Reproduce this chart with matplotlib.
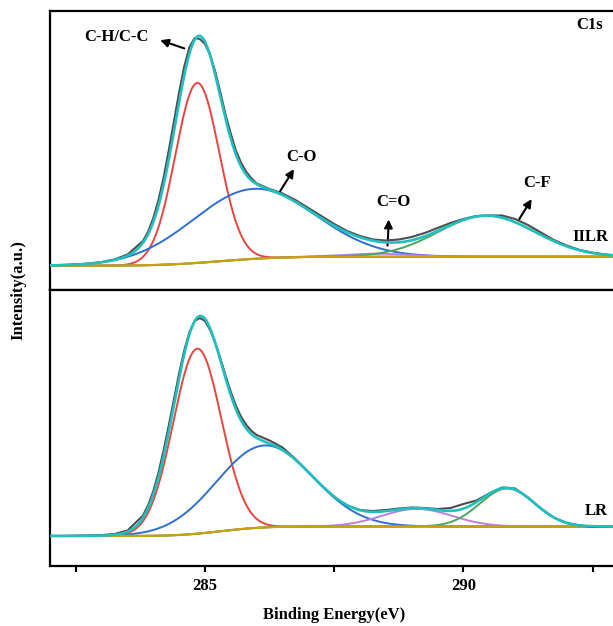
import math
import numpy as np
import matplotlib.pyplot as plt

plt.rcParams['font.family'] = ['Liberation Serif', 'DejaVu Serif']
plt.rcParams['font.weight'] = 'bold'

# measured spectra (a.u.); finer steps across the main peak
energy = [282.0, 282.25, 282.5, 282.75, 283.0, 283.25, 283.5,
          283.8, 283.9, 284.0, 284.1, 284.2, 284.3, 284.4, 284.5, 284.6, 284.7, 284.8,
          284.9, 285.0, 285.1, 285.2, 285.3, 285.4, 285.5, 285.6, 285.7, 285.8, 285.9, 286.0,
          286.25, 286.5, 286.75, 287.0, 287.25, 287.5, 287.75, 288.0, 288.25, 288.5, 288.75,
          289.0, 289.25, 289.5, 289.75, 290.0, 290.25, 290.5, 290.75, 291.0, 291.25, 291.5,
          291.75, 292.0, 292.25, 292.5, 292.75, 293.0]
raw_top = [24.8, 25.1, 25.6, 26.5, 28.0, 30.6, 35.5,
           49.0, 58.5, 72.0, 90.0, 113.0, 140.0, 169.0, 198.0, 224.0, 243.0, 252.0,
           251.0, 246.0, 235.0, 218.0, 197.0, 175.0, 156.0, 139.0, 127.0, 118.0, 111.5, 106.5,
           101.0, 96.5, 90.0, 82.0, 74.0, 66.0, 59.0, 54.0, 50.5, 49.5, 50.5,
           53.0, 57.0, 62.0, 67.0, 71.0, 74.0, 74.5, 74.5, 71.0, 65.0, 57.5,
           50.0, 44.5, 40.0, 37.3, 35.5, 34.5]
raw_bot = [30.2, 30.0, 30.3, 30.5, 30.9, 32.0, 35.5,
           50.5, 61.0, 75.0, 93.5, 116.0, 141.0, 167.0, 193.0, 216.0, 234.0, 245.0,
           248.0, 245.0, 236.0, 223.0, 207.0, 190.0, 174.0, 160.0, 149.0, 141.0, 135.0, 131.0,
           125.5, 118.5, 107.0, 94.0, 80.5, 69.0, 60.5, 56.0, 55.0, 56.0, 57.5,
           58.5, 58.0, 57.0, 58.0, 62.0, 65.5, 72.5, 78.5, 77.5, 68.5, 57.5,
           48.5, 43.0, 40.5, 39.0, 39.3, 39.5]

# fitted peaks: C-H/C-C, C-O, C=O, C-F
peak_colors = ['#e8453f', '#2d6fd2', '#b781e2', '#48a85c']
center_top = [284.85, 285.93, 288.3, 290.45]
fwhm_top = [1.0, 2.8, 1.5, 2.2]
height_top = [180, 70, 3, 41]
center_bot = [284.85, 286.15, 289.1, 290.85]
fwhm_bot = [1.1, 2.2, 1.6, 1.25]
height_bot = [185, 82, 17.6, 38]

# background: low-BE level, high-BE level, step centre, step width
bg_top = [24.3, 33.3, 285.3, 0.9]
bg_bot = [30.0, 39.5, 285.3, 0.65]

x = np.linspace(282, 293, 600)
erf = np.vectorize(math.erf)

def gauss(c, w, h):
    s = w / 2.3548
    return h * np.exp(-0.5 * ((x - c) / s) ** 2)

def background(p):
    lo, hi, c, s = p
    return lo + (hi - lo) * 0.5 * (1 + erf((x - c) / (s * np.sqrt(2))))

fig = plt.figure(figsize=(6.13, 6.26), dpi=100)
ax_top = fig.add_axes([50/613, 336/626, 568.4/613, 279/626])
ax_bot = fig.add_axes([50/613, 60/626, 568.4/613, 276/626])

for ax, raw, cen, fw, hh, bgp, ymax in [(ax_top, raw_top, center_top, fwhm_top, height_top, bg_top, 279),
                                        (ax_bot, raw_bot, center_bot, fwhm_bot, height_bot, bg_bot, 276)]:
    bg = background(bgp)
    env = bg.copy()
    for c, w, h, col in zip(cen, fw, hh, peak_colors):
        g = gauss(c, w, h)
        env += g
        ax.plot(x, bg + g, color=col, lw=1.4, zorder=2)
    ax.plot(x, bg, color='#c9a20a', lw=1.6, zorder=3)
    ax.plot(energy, raw, color='#4d4d4d', lw=1.5, zorder=4)
    ax.plot(x, env, color='#22bfc0', lw=1.9, zorder=5)
    ax.set_xlim(282, 293)
    ax.set_ylim(0, ymax)
    ax.set_yticks([])
    for sp in ax.spines.values():
        sp.set_linewidth(1.6)

ax_top.set_xticks([])
ax_bot.set_xticks([285, 290])
ax_bot.set_xticks([282.5, 287.5, 292.5], minor=True)
ax_bot.tick_params(axis='x', which='both', direction='out', length=4, width=1.5,
                   labelsize=12, pad=5)

arrow = dict(arrowstyle='-|>', color='black', lw=1.5, mutation_scale=12)
ax_top.annotate('', xy=(284.08, 250.7), xytext=(284.65, 240.7), arrowprops=arrow)
ax_top.text(283.29, 252.7, 'C-H/C-C', ha='center', va='center', fontsize=12)
ax_top.annotate('', xy=(286.75, 123.3), xytext=(286.42, 96), arrowprops=arrow)
ax_top.text(286.87, 133.3, 'C-O', ha='center', va='center', fontsize=12)
ax_top.annotate('', xy=(288.56, 73.3), xytext=(288.53, 41.7), arrowprops=arrow)
ax_top.text(288.64, 88.3, 'C=O', ha='center', va='center', fontsize=12)
ax_top.annotate('', xy=(291.35, 93.3), xytext=(291.05, 68.3), arrowprops=arrow)
ax_top.text(291.43, 107.3, 'C-F', ha='center', va='center', fontsize=12)
ax_top.text(292.1, 52.7, 'IILR', ha='left', va='center', fontsize=12)
ax_top.text(292.45, 265, 'C1s', ha='center', va='center', fontsize=12)
ax_bot.text(292.35, 55, 'LR', ha='left', va='center', fontsize=12)

fig.text(18/613, 1 - 290/626, 'Intensity(a.u.)', rotation=90, ha='center', va='center', fontsize=12)
fig.text(334/613, 1 - 615/626, 'Binding Energy(eV)', ha='center', va='center', fontsize=12)

fig.savefig('out.png', dpi=100)
